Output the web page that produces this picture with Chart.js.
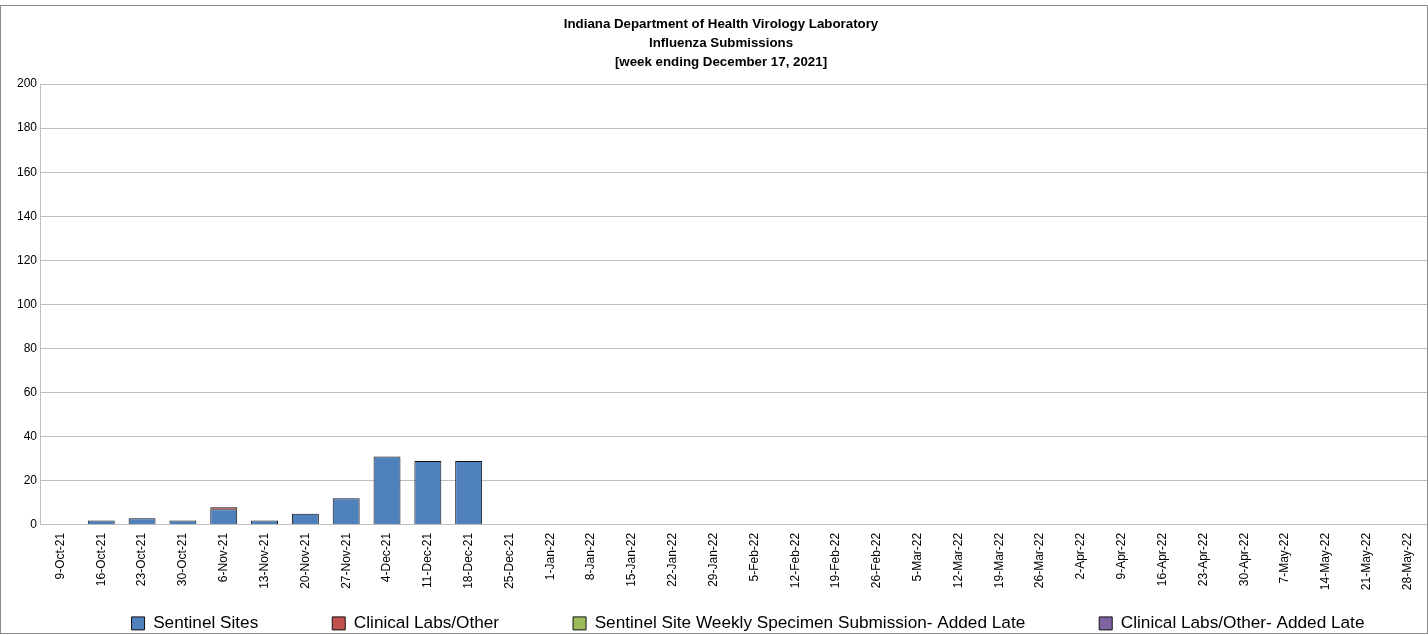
<!DOCTYPE html>
<html>
<head>
<meta charset="utf-8">
<script src="https://cdn.jsdelivr.net/npm/chart.js@4"></script>
<style>
  body { margin: 0; background: #fff; }
  #wrap { position: relative; width: 1428px; height: 635px; }
</style>
</head>
<body>
<div id="wrap"><canvas id="grafico"></canvas></div>
<script>
var semanas = ["9-Oct-21", "16-Oct-21", "23-Oct-21", "30-Oct-21", "6-Nov-21", "13-Nov-21", "20-Nov-21", "27-Nov-21",
  "4-Dec-21", "11-Dec-21", "18-Dec-21", "25-Dec-21", "1-Jan-22", "8-Jan-22", "15-Jan-22", "22-Jan-22", "29-Jan-22",
  "5-Feb-22", "12-Feb-22", "19-Feb-22", "26-Feb-22", "5-Mar-22", "12-Mar-22", "19-Mar-22", "26-Mar-22",
  "2-Apr-22", "9-Apr-22", "16-Apr-22", "23-Apr-22", "30-Apr-22", "7-May-22", "14-May-22", "21-May-22", "28-May-22"];
var sentinela = [0, 2, 3, 2, 7, 2, 5, 12, 31, 29, 29];
var clinicos = [0, 0, 0, 0, 1, 0, 0, 0, 0, 0, 0];
var sentinelaAtrasado = [];
var clinicosAtrasado = [];
var tituloLinhas = ["Indiana Department of Health Virology Laboratory", "Influenza Submissions", "[week ending December 17, 2021]"];

// moldura cinza em volta do grafico
var moldura = {
  id: 'moldura',
  afterDraw: function(chart) {
    var ctx = chart.ctx;
    ctx.save();
    ctx.strokeStyle = '#8c8c8c';
    ctx.lineWidth = 1;
    ctx.strokeRect(0.5, 5.5, chart.width - 1, chart.height - 7);
    ctx.restore();
  }
};

// empurra a legenda um pouco e deixa os rotulos do eixo x aparecerem
var ajusteLegenda = {
  id: 'ajusteLegenda',
  afterLayout: function(chart) {
    var l = chart.legend;
    var dx = 27, dy = 7;
    l.left += dx; l.right += dx;
    l.top += dy; l.bottom += dy;
    chart.scales.x.bottom = l.top + 60;
  }
};

function serie(label, data, cor) {
  return {
    label: label,
    data: data,
    backgroundColor: cor,
    borderColor: '#111',
    borderWidth: 1,
    barPercentage: 0.66,
    categoryPercentage: 1.0
  };
}

new Chart(document.getElementById("grafico"), {
  type: 'bar',
  data: {
    labels: semanas,
    datasets: [
      serie("Sentinel Sites", sentinela, "#4F81BD"),
      serie("Clinical Labs/Other", clinicos, "#C0504D"),
      serie("Sentinel Site Weekly Specimen Submission- Added Late", sentinelaAtrasado, "#9BBB59"),
      serie("Clinical Labs/Other- Added Late", clinicosAtrasado, "#8064A2")
    ]
  },
  options: {
    responsive: true,
    maintainAspectRatio: false,
    animation: false,
    layout: { padding: { top: 15, right: 0, left: 14, bottom: 0 } },
    plugins: {
      title: {
        display: true,
        text: tituloLinhas,
        color: '#000',
        font: { family: 'Liberation Sans', size: 13.3, weight: 'bold', lineHeight: 1.43 },
        padding: { top: 0, bottom: 12 }
      },
      legend: {
        position: 'bottom',
        labels: {
          color: '#000',
          font: { family: 'Liberation Sans', size: 17.2 },
          boxWidth: 13,
          boxHeight: 13,
          padding: 74
        }
      },
      tooltip: { enabled: false }
    },
    scales: {
      x: {
        stacked: true,
        grid: { display: false },
        border: { color: '#bfbfbf' },
        ticks: {
          color: '#000',
          font: { family: 'Liberation Sans', size: 12 },
          padding: 0,
          maxRotation: 90,
          minRotation: 90,
          autoSkip: false
        },
        afterFit: function(scale) { scale.height = 9; }
      },
      y: {
        stacked: true,
        min: 0,
        max: 200,
        ticks: { stepSize: 20, color: '#000', font: { family: 'Liberation Sans', size: 12 } },
        grid: { color: '#bfbfbf', drawTicks: false },
        border: { color: '#bfbfbf' }
      }
    }
  },
  plugins: [moldura, ajusteLegenda]
});
</script>
</body>
</html>
